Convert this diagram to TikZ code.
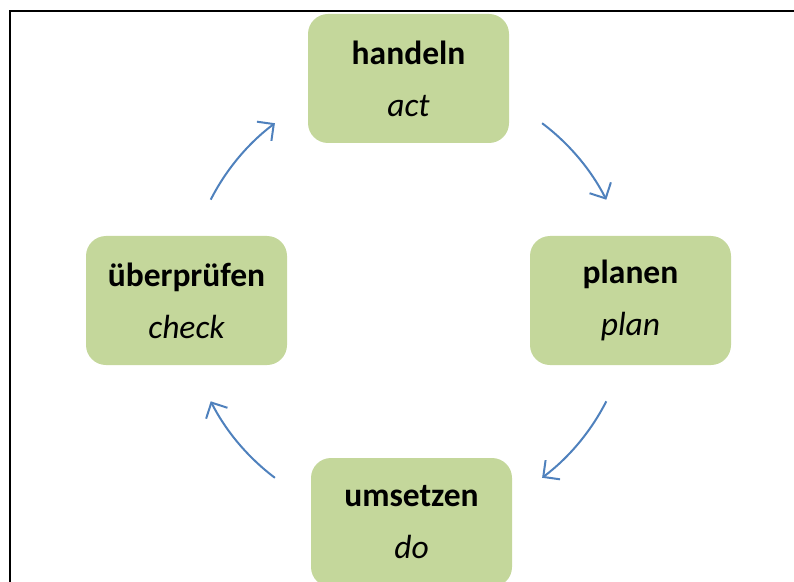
\documentclass[tikz,border=0pt]{standalone}
\usepackage{fontspec}
\setmainfont{Carlito}
\usetikzlibrary{arrows.meta}
\definecolor{phasegreen}{HTML}{C4D79B}
\definecolor{turnblue}{HTML}{4F81BD}
\tikzstyle{phase}=[fill=phasegreen,rounded corners=20bp,minimum width=201bp,minimum height=129bp,inner sep=0pt,align=center,font=\fontsize{33.5bp}{52bp}\selectfont]
\tikzstyle{turn}=[turnblue,line width=2bp,-{Straight Barb[length=12bp,width=24bp]}]

\begin{document}
\begin{tikzpicture}[x=1bp,y=-1bp]
\clip (0,0) rectangle (794,582);
\draw[line width=2bp] (10,582) -- (10,11) -- (794,11);
\node[phase] at (408.5, 78.5) (p-act)   {{\bf handeln}\\{\it act}};
\node[phase] at (630.5,300.5) (p-plan)  {{\bf planen}\\{\it plan}};
\node[phase] at (411.5,522.5) (p-do)    {{\bf umsetzen}\\{\it do}};
\node[phase] at (186.5,300.5) (p-check) {{\bf überprüfen}\\{\it check}};
\coordinate (hub) at (408.5,300.5);
\draw[turn] ([shift={(-53:222)}]hub) arc[start angle=-53,end angle=-27,radius=222];
\draw[turn] ([shift={(27:222)}]hub)  arc[start angle=27,end angle=53,radius=222];
\draw[turn] ([shift={(127:222)}]hub) arc[start angle=127,end angle=153,radius=222];
\draw[turn] ([shift={(207:222)}]hub) arc[start angle=207,end angle=233,radius=222];
\end{tikzpicture}
\end{document}
